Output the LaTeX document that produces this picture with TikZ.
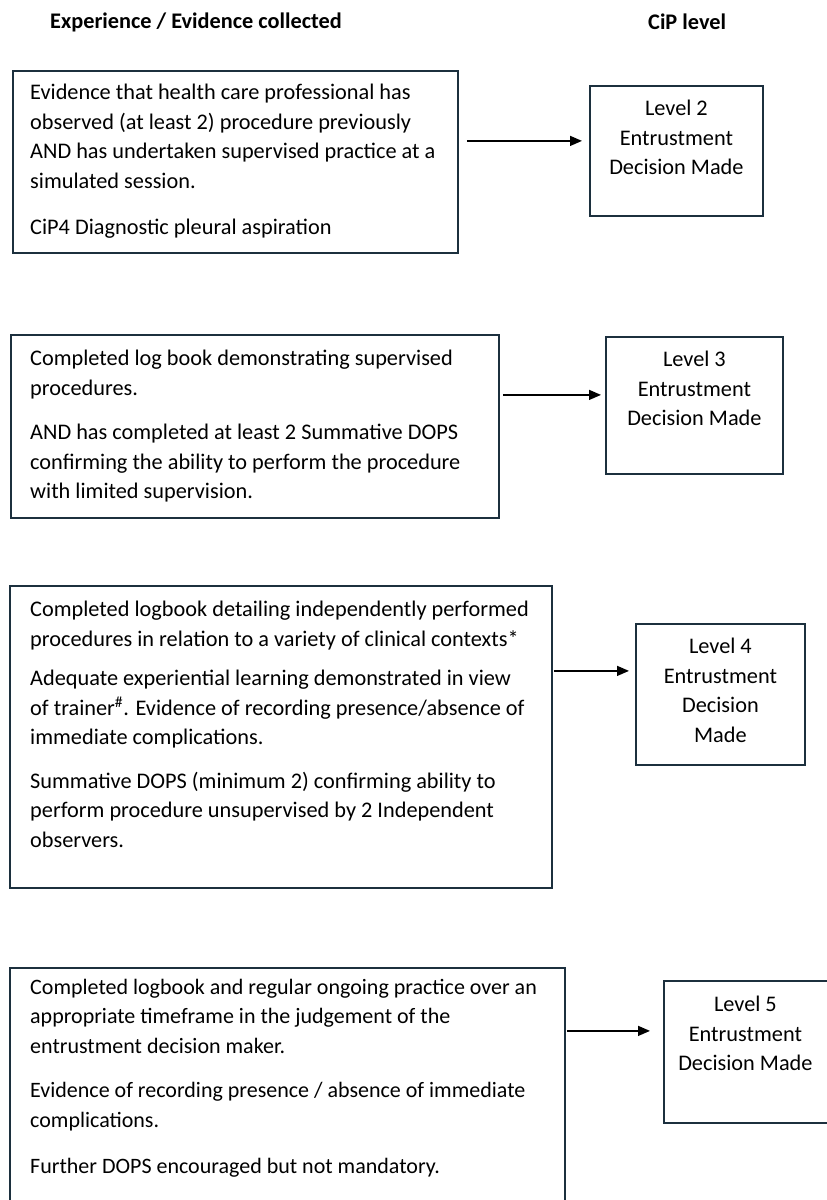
\documentclass[tikz,border=0pt]{standalone}
\usepackage{fontspec}
\setmainfont{Carlito}
\usetikzlibrary{arrows.meta}
\definecolor{boxline}{RGB}{28,48,62}
\tikzset{
  evbox/.style={draw=boxline, line width=1.8pt, rectangle, inner sep=0pt, anchor=north west},
  lvbox/.style={draw=boxline, line width=1.8pt, rectangle, inner sep=0pt, anchor=north west},
  evtext/.style={anchor=north west, align=left, inner sep=0pt, font=\fontsize{22.3}{29.5}\selectfont},
  lvtext/.style={anchor=north, align=center, inner sep=0pt, font=\fontsize{22.3}{29.5}\selectfont},
  head/.style={anchor=west, inner sep=0pt, font=\fontsize{22.3}{26}\selectfont\bfseries},
  arr/.style={-{Triangle[length=12pt,width=10pt]}, line width=1.4pt, black},
}
\begin{document}
\begin{tikzpicture}[x=1pt,y=-1pt]
\useasboundingbox (0,0) rectangle (827,1200);
\begin{scope}
\clip (0,0) rectangle (827,1200);
% headers
\node[head] (h1) at (50,22) {Experience / Evidence collected};
\node[head] (h2) at (648,22) {CiP level};

% row 1
\node[evbox, minimum width=445pt, minimum height=182pt] (b1) at (12,70) {};
\node[evtext] (t1) at ([shift={(18,14)}]b1.north west) {Evidence that health care professional has\\
observed (at least 2) procedure previously\\
AND has undertaken supervised practice at a\\
simulated session.\\[17pt]
CiP4 Diagnostic pleural aspiration};
\node[lvbox, minimum width=173pt, minimum height=130pt] (l2) at (589,85) {};
\node[lvtext] (s2) at ([shift={(0,15)}]l2.north) {Level 2\\Entrustment\\Decision Made};
\draw[arr] ([shift={(8,-21)}]b1.east) -- ([shift={(-7,-10)}]l2.west);

% row 2
\node[evbox, minimum width=488pt, minimum height=183pt] (b2) at (10,334) {};
\node[evtext] (t2) at ([shift={(20,16)}]b2.north west) {Completed log book demonstrating supervised\\
procedures.\\[15pt]
AND has completed at least 2 Summative DOPS\\
confirming the ability to perform the procedure\\
with limited supervision.};
\node[lvbox, minimum width=177pt, minimum height=137pt] (l3) at (605,336) {};
\node[lvtext] (s3) at ([shift={(0,15)}]l3.north) {Level 3\\Entrustment\\Decision Made};
\draw[arr] ([shift={(3,-31.5)}]b2.east) -- ([shift={(-4,-10.5)}]l3.west);

% row 3
\node[evbox, minimum width=542pt, minimum height=302pt] (b3) at (9,585) {};
\node[evtext] (t3) at ([shift={(21,16)}]b3.north west) {Completed logbook detailing independently performed\\
procedures in relation to a variety of clinical contexts*\\[10pt]
Adequate experiential learning demonstrated in view\\
of trainer\textsuperscript{\#}. Evidence of recording presence/absence of\\
immediate complications.\\[14pt]
Summative DOPS (minimum 2) confirming ability to\\
perform procedure unsupervised by 2 Independent\\
observers.};
\node[lvbox, minimum width=169pt, minimum height=141pt] (l4) at (635,623) {};
\node[lvtext] (s4) at ([shift={(0,15)}]l4.north) {Level 4\\Entrustment\\Decision\\Made};
\draw[arr] ([shift={(1,-66)}]b3.east) -- ([shift={(-6,-23.5)}]l4.west);

% row 4
\node[evbox, minimum width=555pt, minimum height=270pt] (b4) at (9,967) {};
\node[evtext, font=\fontsize{22}{29.5}\selectfont] (t4) at ([shift={(21,12)}]b4.north west) {Completed logbook and regular ongoing practice over an\\
appropriate timeframe in the judgement of the\\
entrustment decision maker.\\[15pt]
Evidence of recording presence / absence of immediate\\
complications.\\[17pt]
Further DOPS encouraged but not mandatory.};
\node[lvbox, minimum width=200pt, minimum height=142pt] (l5) at (663,980) {};
\node[lvtext] (s5) at ([shift={(-18.5,16)}]l5.north) {Level 5\\Entrustment\\Decision Made};
\draw[arr] ([shift={(1,-72)}]b4.east) -- ([shift={(-13,-21)}]l5.west);
\end{scope}
\end{tikzpicture}
\end{document}
